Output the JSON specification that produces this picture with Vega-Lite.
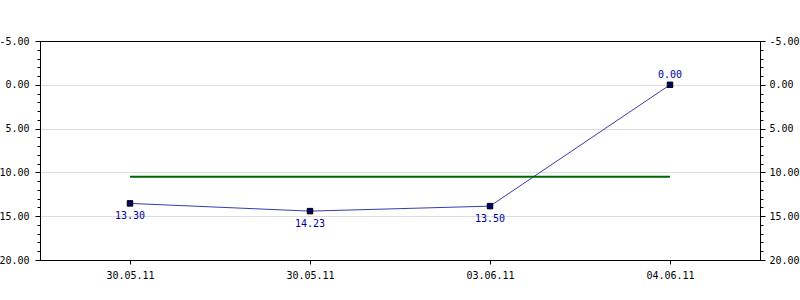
{
  "$schema": "https://vega.github.io/schema/vega-lite/v6.json",
  "width": 720,
  "height": 219,
  "autosize": {"type": "none"},
  "padding": {"left": 40, "top": 41, "right": 40, "bottom": 40},
  "background": "white",
  "config": {
    "view": {"stroke": "#000000", "strokeWidth": 1},
    "font": "DejaVu Sans Mono"
  },
  "datasets": {
    "series": [
      {"id": "1|30.05.11", "value": 13.54, "label": "13.30"},
      {"id": "2|30.05.11", "value": 14.42, "label": "14.23"},
      {"id": "3|03.06.11", "value": 13.85, "label": "13.50"},
      {"id": "4|04.06.11", "value": 0.0, "label": "0.00"}
    ],
    "avg": [
      {"from": "1|30.05.11", "to": "4|04.06.11", "avg": 10.5}
    ]
  },
  "layer": [
    {
      "data": {"name": "series"},
      "mark": {"type": "line", "color": "#3b3bb0", "strokeWidth": 1},
      "encoding": {
        "x": {
          "field": "id", "type": "ordinal",
          "scale": {"type": "point", "padding": 0.5},
          "axis": {
            "orient": "bottom", "title": null,
            "labelExpr": "split(datum.value, '|')[1]",
            "labelAngle": 0, "labelFont": "DejaVu Sans Mono", "labelFontSize": 10,
            "labelColor": "#000000", "labelPadding": 6, "tickSize": 4,
            "tickColor": "#000000", "domainColor": "#000000", "grid": false
          }
        },
        "y": {
          "field": "value", "type": "quantitative",
          "scale": {"domain": [-5, 20], "reverse": true, "nice": false, "zero": false},
          "axis": {
            "orient": "left", "title": null,
            "values": [-5,-4,-3,-2,-1,0,1,2,3,4,5,6,7,8,9,10,11,12,13,14,15,16,17,18,19,20],
            "labelExpr": "datum.value % 5 === 0 ? replace(format(datum.value, '.2f'), '\u2212', '-') : ''",
            "labelFont": "DejaVu Sans Mono", "labelFontSize": 10, "labelColor": "#000000",
            "labelPadding": 6, "labelOverlap": false, "labelBound": false, "labelFlush": false,
            "tickSize": {"condition": {"test": "datum.value % 5 === 0", "value": 5}, "value": 3},
            "tickColor": "#000000", "domainColor": "#000000",
            "grid": true, "gridColor": "#dddddd",
            "gridOpacity": {"condition": {"test": "datum.value % 5 === 0 && datum.value > -5 && datum.value < 20", "value": 1}, "value": 0}
          }
        }
      }
    },
    {
      "data": {"name": "avg"},
      "mark": {"type": "rule", "color": "#006600", "strokeWidth": 2},
      "encoding": {
        "x": {"field": "from", "type": "ordinal"},
        "x2": {"field": "to"},
        "y": {
          "field": "avg", "type": "quantitative",
          "scale": {"domain": [-5, 20], "reverse": true, "nice": false, "zero": false},
          "axis": {
            "orient": "right", "title": null,
            "values": [-5,-4,-3,-2,-1,0,1,2,3,4,5,6,7,8,9,10,11,12,13,14,15,16,17,18,19,20],
            "labelExpr": "datum.value % 5 === 0 ? replace(format(datum.value, '.2f'), '\u2212', '-') : ''",
            "labelFont": "DejaVu Sans Mono", "labelFontSize": 10, "labelColor": "#000000",
            "labelPadding": 4, "labelOverlap": false, "labelBound": false, "labelFlush": false,
            "tickSize": {"condition": {"test": "datum.value % 5 === 0", "value": 5}, "value": 3},
            "tickColor": "#000000", "domainColor": "#000000", "grid": false
          }
        }
      }
    },
    {
      "data": {"name": "series"},
      "mark": {"type": "point", "shape": "square", "size": 30, "filled": true, "fill": "#000066", "stroke": "#000000", "strokeWidth": 1, "opacity": 1},
      "encoding": {
        "x": {"field": "id", "type": "ordinal"},
        "y": {"field": "value", "type": "quantitative", "scale": {"domain": [-5, 20], "reverse": true, "nice": false, "zero": false}, "axis": null}
      }
    },
    {
      "data": {"name": "series"},
      "transform": [{"filter": "datum.value >= 5"}],
      "mark": {"type": "text", "dy": 13, "font": "DejaVu Sans Mono", "fontSize": 10, "color": "#000099"},
      "encoding": {
        "x": {"field": "id", "type": "ordinal"},
        "y": {"field": "value", "type": "quantitative", "scale": {"domain": [-5, 20], "reverse": true, "nice": false, "zero": false}, "axis": null},
        "text": {"field": "label"}
      }
    },
    {
      "data": {"name": "series"},
      "transform": [{"filter": "datum.value < 5"}],
      "mark": {"type": "text", "dy": -10, "font": "DejaVu Sans Mono", "fontSize": 10, "color": "#000099"},
      "encoding": {
        "x": {"field": "id", "type": "ordinal"},
        "y": {"field": "value", "type": "quantitative", "scale": {"domain": [-5, 20], "reverse": true, "nice": false, "zero": false}, "axis": null},
        "text": {"field": "label"}
      }
    }
  ],
  "resolve": {"scale": {"y": "independent"}}
}
